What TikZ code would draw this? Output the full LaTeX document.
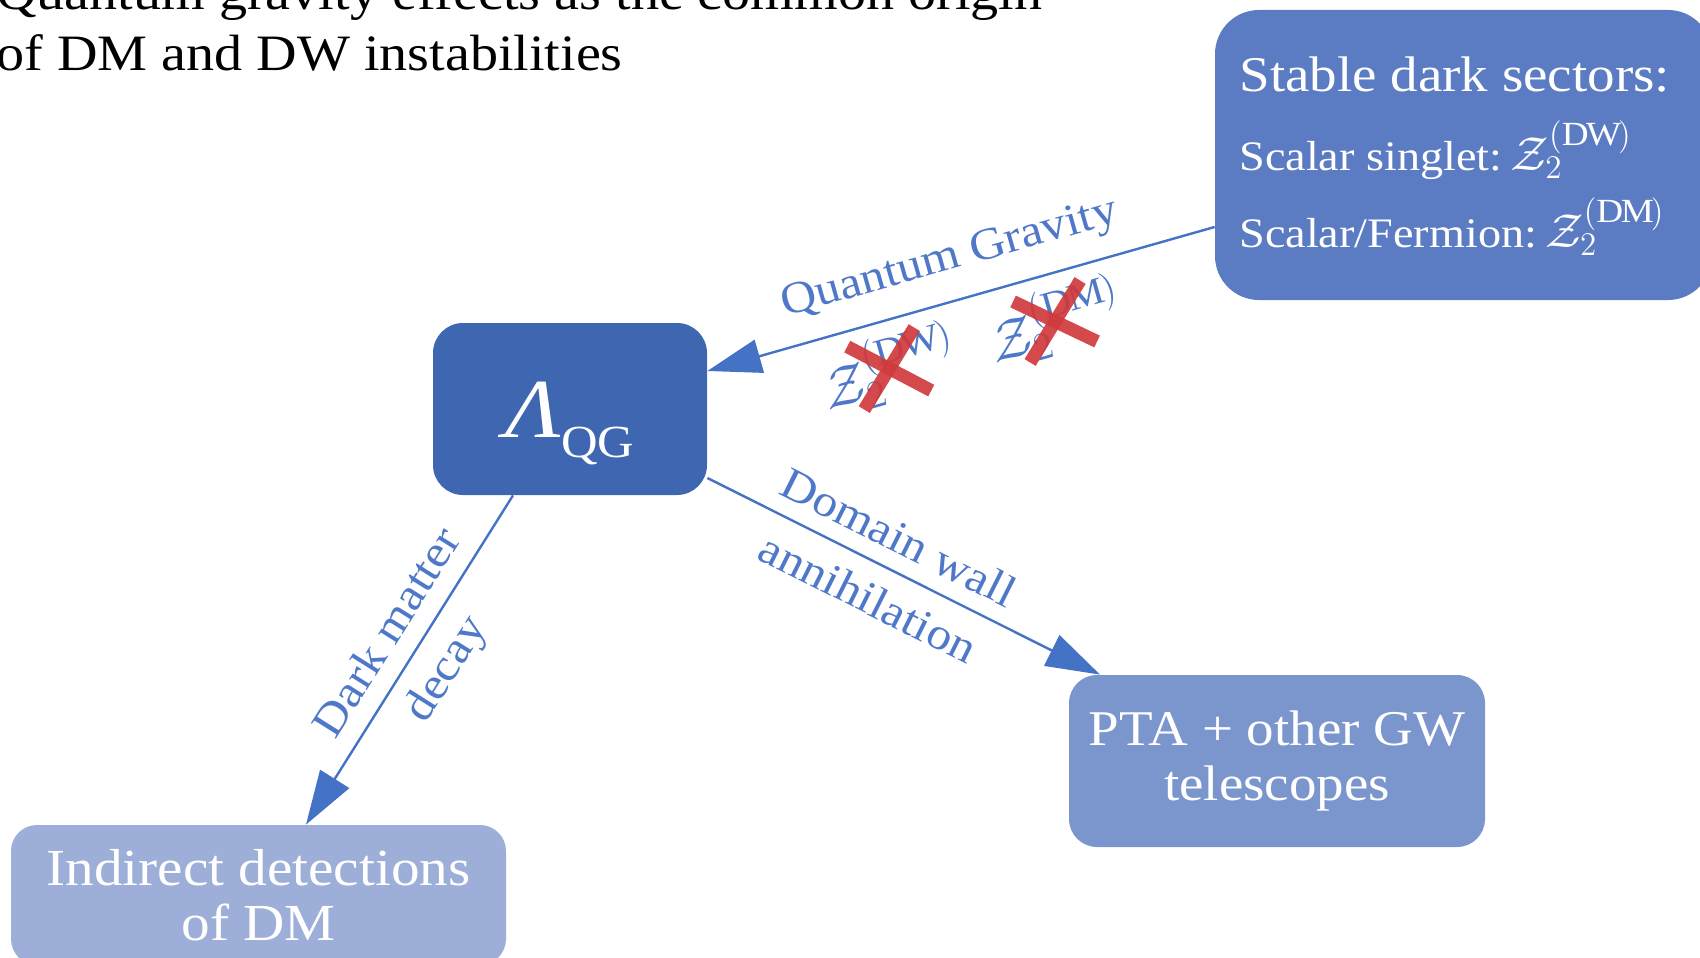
\documentclass[tikz,border=0pt]{standalone}
\usepackage{fontspec}
\setmainfont{Liberation Serif}[FakeStretch=1.1]
\usetikzlibrary{arrows.meta,calc}
\definecolor{boxA}{RGB}{91,123,195}
\definecolor{boxB}{RGB}{63,103,177}
\definecolor{boxC}{RGB}{123,150,205}
\definecolor{boxD}{RGB}{157,174,216}
\definecolor{arrowblue}{RGB}{68,114,196}
\definecolor{labelblue}{RGB}{79,120,200}
\definecolor{crossred}{RGB}{208,58,60}
\begin{document}
\begin{tikzpicture}[x=0.5pt,y=-0.5pt,
  box/.style={rectangle, inner sep=0pt, text=white, align=center},
  boxtext/.style={inner sep=0pt, text=white},
  titletext/.style={inner sep=0pt, text=black, font=\fontsize{25.5}{31}\selectfont},
  lab/.style={inner sep=0pt, text=labelblue, font=\fontsize{22.5}{27}\selectfont},
  zlab/.style={inner sep=0pt, text=labelblue, font=\fontsize{20}{24}\selectfont},
  arr/.style={draw=arrowblue, line width=1.2pt, -{Triangle[length=27pt,width=17pt]}},
  xbar/.style={draw=crossred, line width=6.5pt, draw opacity=0.92}]
\useasboundingbox (0,0) rectangle (1700,957);
\clip (0,0) rectangle (1700,957);

% title
\node[titletext, anchor=base west] (t1) at (-4,10) {Quantum gravity effects as the common origin};
\node[titletext, anchor=base west] (t2) at (-4,71) {of DM and DW instabilities};

% stable dark sectors
\node[box, fill=boxA, rounded corners=22pt, minimum width=248.5pt, minimum height=145pt] (stable) at (1463.5,155) {};
\node[boxtext, anchor=base west, font=\fontsize{25}{30}\selectfont] (s1) at (1239,92) {Stable dark sectors:};
\node[boxtext, anchor=base west, font=\fontsize{21}{25}\selectfont] (s2) at (1239,170) {Scalar singlet:\hspace{0.2em}\scalebox{1.15}{$\mathcal{Z}_2^{(\mathrm{DW})}$}};
\node[boxtext, anchor=base west, font=\fontsize{21}{25}\selectfont] (s3) at (1239,247) {Scalar/Fermion:\hspace{0.2em}\scalebox{1.15}{$\mathcal{Z}_2^{(\mathrm{DM})}$}};

% Lambda_QG
\node[box, fill=boxB, rounded corners=15pt, minimum width=137pt, minimum height=86pt] (lam) at (570,409)
  {\raisebox{-14pt}[0pt][0pt]{\fontsize{42}{42}\selectfont\itshape Λ\/\upshape\raisebox{-10pt}{\fontsize{23}{23}\selectfont QG}}};

% indirect detection
\node[box, fill=boxD, rounded corners=13pt, minimum width=247.5pt, minimum height=70pt, font=\fontsize{26}{27.5}\selectfont] (ind) at (258.5,895) {Indirect detections\\of DM};

% PTA
\node[box, fill=boxC, rounded corners=14pt, minimum width=208pt, minimum height=86pt, font=\fontsize{25}{27.5}\selectfont] (pta) at (1277,761) {PTA + other GW\\telescopes};

% arrows
\draw[arr] ([yshift=-36pt]stable.west) -- ([yshift=19pt]lam.east)
  node[lab, sloped, pos=0.5, above=10pt] (qglab) {Quantum Gravity}
  node[zlab, sloped, pos=0.34, below=6pt] (zdm) {\scalebox{1.35}{$\mathcal{Z}_2^{(\mathrm{DM})}$}}
  node[zlab, sloped, pos=0.667, below=6pt] (zdw) {\scalebox{1.35}{$\mathcal{Z}_2^{(\mathrm{DW})}$}};

\draw[arr] ([xshift=-28.5pt]lam.south) -- ([xshift=23.75pt]ind.north)
  node[lab, sloped, pos=0.47, above=9pt] (dmlab1) {Dark matter}
  node[lab, sloped, pos=0.47, below=8pt] (dmlab2) {decay};

\draw[arr] ([yshift=-34.5pt]lam.east) -- ([xshift=-88.5pt]pta.north)
  node[lab, sloped, pos=0.45, above=8pt] (dwlab1) {Domain wall}
  node[lab, sloped, pos=0.45, below=9pt] (dwlab2) {annihilation};

% crosses
\draw[xbar] ([shift={(-42,-22)}]zdw.center) -- ([shift={(42,22)}]zdw.center);
\draw[xbar] ([shift={(25,-41)}]zdw.center) -- ([shift={(-25,41)}]zdw.center);
\draw[xbar] ([shift={(-42,-20)}]zdm.center) -- ([shift={(42,20)}]zdm.center);
\draw[xbar] ([shift={(25,-41)}]zdm.center) -- ([shift={(-25,41)}]zdm.center);
\end{tikzpicture}
\end{document}
